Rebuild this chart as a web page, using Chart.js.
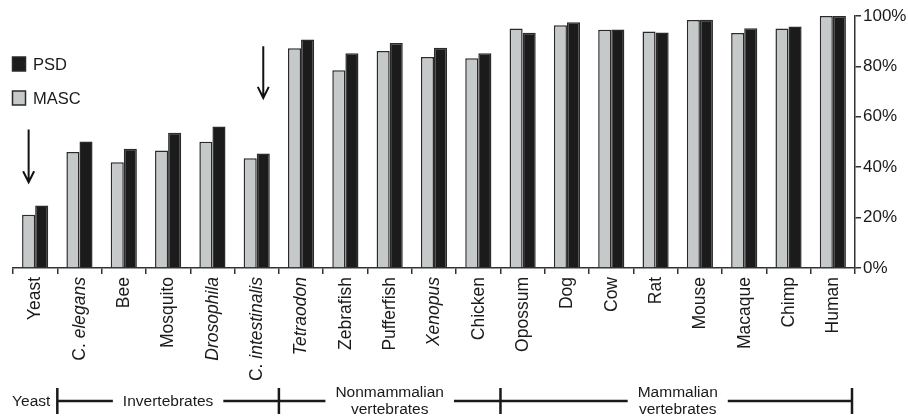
<!DOCTYPE html>
<html>
<head>
<meta charset="utf-8">
<script src="https://cdn.jsdelivr.net/npm/chart.js@4/dist/chart.umd.min.js"></script>
<style>
  body { margin: 0; background: #fff; }
</style>
</head>
<body>
<canvas id="chart" width="908" height="417"></canvas>
<script>
const categories = ["Yeast", "C. elegans", "Bee", "Mosquito", "Drosophila", "C. intestinalis",
    "Tetraodon", "Zebrafish", "Pufferfish", "Xenopus", "Chicken", "Opossum", "Dog", "Cow",
    "Rat", "Mouse", "Macaque", "Chimp", "Human"];
const italicWords = ["elegans", "Drosophila", "intestinalis", "Tetraodon", "Xenopus"];

const masc = [21.1, 46.0, 42.0, 46.6, 50.1, 43.6, 87.2, 78.5, 86.1, 83.7, 83.2, 95.0, 96.3, 94.5, 93.8, 98.4, 93.3, 95.0, 100];
const psd = [24.8, 50.2, 47.3, 53.7, 56.2, 45.4, 90.7, 85.2, 89.3, 87.4, 85.2, 93.4, 97.5, 94.6, 93.5, 98.5, 95.1, 95.8, 100];

const yTicks = [0, 20, 40, 60, 80, 100];

// taxonomic groups below the axis (first / last category index)
const groupNames = ["Yeast", "Invertebrates", "Nonmammalian\nvertebrates", "Mammalian\nvertebrates"];
const groupStart = [0, 1, 6, 11];
const groupEnd = [0, 5, 10, 18];

// arrows: category, series the arrow sits over, top and tip in %
const arrowCats = [0, 5];
const arrowSeries = [0, 1];
const arrowTop = [55, 88];
const arrowTip = [34, 67.5];

const FONT = "'Liberation Sans', Arial, Helvetica, sans-serif";
const INK = "#1a1a1a";

const extras = {
    id: "extras",
    afterDraw(chart) {
        const ctx = chart.ctx;
        const xs = chart.scales.x;
        const ys = chart.scales.y;
        const area = chart.chartArea;

        // category labels, rotated, with italic species names
        ctx.save();
        ctx.fillStyle = INK;
        ctx.textBaseline = "middle";
        ctx.textAlign = "left";
        categories.forEach((label, i) => {
            const x = xs.getPixelForValue(i);
            const parts = label.split(" ").map((w, k, arr) => ({
                text: w + (k < arr.length - 1 ? " " : ""),
                font: (italicWords.includes(w) ? "italic " : "") + "17.5px " + FONT,
            }));
            let total = 0;
            parts.forEach(p => { ctx.font = p.font; p.w = ctx.measureText(p.text).width; total += p.w; });
            ctx.save();
            ctx.translate(x + 0.5, area.bottom + 9);
            ctx.rotate(-Math.PI / 2);
            let cx = -total;
            parts.forEach(p => { ctx.font = p.font; ctx.fillText(p.text, cx, 0); cx += p.w; });
            ctx.restore();
        });
        ctx.restore();

        // group brackets
        const lineY = area.bottom + 133;
        const step = xs.getPixelForValue(1) - xs.getPixelForValue(0);
        const edgeL = i => xs.getPixelForValue(i) - step / 2;
        const edgeR = i => xs.getPixelForValue(i) + step / 2;
        ctx.save();
        ctx.strokeStyle = INK;
        ctx.fillStyle = INK;
        ctx.lineWidth = 2.5;
        ctx.font = "15.5px " + FONT;
        ctx.textBaseline = "middle";
        const gaps = [];
        groupNames.forEach((name, g) => {
            const lines = name.split("\n");
            const cx = (edgeL(groupStart[g]) + edgeR(groupEnd[g])) / 2;
            if (g === 0) {
                ctx.textAlign = "right";
                ctx.fillText(name, edgeR(groupEnd[g]) - 7, lineY + 1);
                return;
            }
            ctx.textAlign = "center";
            const w = Math.max(...lines.map(l => ctx.measureText(l).width));
            lines.forEach((l, k) => {
                const off = lines.length === 1 ? 1 : (k === 0 ? -8 : 9);
                ctx.fillText(l, cx, lineY + off);
            });
            gaps.push([cx - w / 2 - 10, cx + w / 2 + 10]);
        });
        let from = edgeL(groupStart[1]);
        const to = edgeR(groupEnd[groupEnd.length - 1]) - 3;
        ctx.beginPath();
        gaps.forEach(([a, b]) => { ctx.moveTo(from, lineY); ctx.lineTo(a, lineY); from = b; });
        ctx.moveTo(from, lineY); ctx.lineTo(to, lineY);
        for (let g = 1; g < groupStart.length; g++) {
            const x = edgeL(groupStart[g]);
            ctx.moveTo(x, lineY - 13); ctx.lineTo(x, lineY + 13);
        }
        ctx.moveTo(to, lineY - 13); ctx.lineTo(to, lineY + 13);
        ctx.stroke();
        ctx.restore();

        // arrows
        ctx.save();
        ctx.strokeStyle = "#111";
        ctx.lineWidth = 2;
        arrowCats.forEach((c, k) => {
            const x = chart.getDatasetMeta(arrowSeries[k]).data[c].x;
            const y0 = ys.getPixelForValue(arrowTop[k]);
            const y1 = ys.getPixelForValue(arrowTip[k]);
            ctx.beginPath();
            ctx.moveTo(x, y0); ctx.lineTo(x, y1);
            ctx.moveTo(x - 5.5, y1 - 11); ctx.lineTo(x, y1); ctx.lineTo(x + 5.5, y1 - 11);
            ctx.stroke();
        });
        ctx.restore();

        // legend
        ctx.save();
        ctx.font = "16.5px " + FONT;
        ctx.textBaseline = "middle";
        ctx.textAlign = "left";
        const items = [["PSD", "#1b1b1b", 64], ["MASC", "#c6c9ca", 98]];
        items.forEach(([t, c, y]) => {
            ctx.fillStyle = c;
            ctx.fillRect(12.5, y - 7, 13, 14);
            ctx.strokeStyle = "#2a2a2a";
            ctx.lineWidth = 1.5;
            ctx.strokeRect(12.5, y - 7, 13, 14);
            ctx.fillStyle = INK;
            ctx.fillText(t, 33, y + 1);
        });
        ctx.restore();
    }
};

new Chart(document.getElementById("chart"), {
    type: "bar",
    data: {
        labels: categories,
        datasets: [{
            label: "MASC",
            data: masc,
            backgroundColor: "#c6c9ca",
            borderColor: "#2a2a2a",
            borderWidth: 1.5,
        }, {
            label: "PSD",
            data: psd,
            backgroundColor: "#1b1b1b",
            borderColor: "#2a2a2a",
            borderWidth: 1.5,
        }],
    },
    options: {
        responsive: false,
        animation: false,
        devicePixelRatio: 1,
        categoryPercentage: 0.59,
        barPercentage: 1.0,
        layout: { padding: { left: 13, top: 16, right: 0, bottom: 0 } },
        plugins: { legend: { display: false }, tooltip: { enabled: false } },
        scales: {
            x: {
                ticks: { display: false },
                grid: { display: true, drawOnChartArea: false, drawTicks: true, tickLength: 6, color: "#333", lineWidth: 1.5, offset: true },
                border: { display: true, color: "#333", width: 1.5 },
                afterFit: s => { s.height = 149; },
            },
            y: {
                position: "right",
                min: 0,
                max: 100,
                afterBuildTicks: s => { s.ticks = yTicks.map(v => ({ value: v })); },
                ticks: {
                    callback: v => v + "%",
                    color: INK,
                    font: { family: FONT, size: 17 },
                    padding: 2,
                },
                grid: { drawOnChartArea: false, drawTicks: true, tickLength: 6, color: "#333", lineWidth: 1.5 },
                border: { display: true, color: "#333", width: 1.5 },
                afterFit: s => { s.width = 53; },
            },
        },
    },
    plugins: [extras],
});
</script>
</body>
</html>
